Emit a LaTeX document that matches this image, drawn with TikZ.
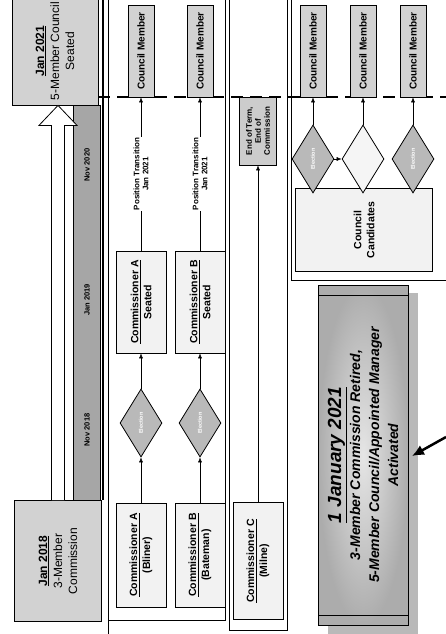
\documentclass[tikz,border=0pt]{standalone}
\usepackage{fontspec}
\setmainfont{Liberation Sans}
\usetikzlibrary{shapes.geometric,arrows.meta,calc}

\begin{document}
\begin{tikzpicture}[
  x=1pt,y=-1pt,
  font=\bfseries\fontsize{10}{12}\selectfont,
  cmbox/.style={draw,thick,fill=gray!35,rotate=90,inner sep=1pt,
                minimum width=92pt,minimum height=26pt},
  datebox/.style={draw,thick,fill=gray!35,rotate=90,align=center,
                  font=\mdseries\fontsize{12}{15}\selectfont},
  combox/.style={draw,thick,fill=gray!10,rotate=90,align=center,inner sep=1pt,
                 font=\bfseries\fontsize{10.5}{13}\selectfont},
  vote/.style={diamond,draw,thick,fill=gray!55,rotate=90,inner sep=0pt,
               minimum width=68pt,minimum height=42pt,
               font=\bfseries\fontsize{5.5}{6}\selectfont,text=white},
  trans/.style={fill=white,rotate=90,align=center,inner sep=1pt,
                font=\bfseries\fontsize{8}{9}\selectfont},
  datelab/.style={rotate=90,font=\bfseries\fontsize{7.5}{9}\selectfont},
  banner/.style={draw,thick,rotate=90,align=center,inner sep=2pt,
                 inner color=gray!20,outer color=gray!65,
                 font=\bfseries\itshape\fontsize{14}{19}\selectfont},
  lane/.style={line width=0.9pt},
  >={Latex[length=5pt,width=4pt]}
]
\useasboundingbox (0,0) rectangle (446,634);
\clip (0,0) rectangle (446,634);
% ---- lanes ----
\draw[lane] (108,0) -- (108,634);
\draw[lane] (108,620) -- (225,620) -- (225,0);
\draw[lane] (229,0) -- (229,630) -- (287,630) -- (287,0);
\draw[lane] (291,0) -- (291,280) -- (446,280);
\draw[line width=1.1pt] (103,0) -- (103,500);
% ---- timeline bar ----
\filldraw[thick,fill=gray!70] (73,105) rectangle (100,500);
\node[datelab] (nov20) at (87,165) {Nov 2020};
\node[datelab] (jan19) at (87,300) {Jan 2019};
\node[datelab] (nov18) at (87,430) {Nov 2018};
% ---- Jan 2021 line ----
\draw[line width=2pt,dash pattern=on 12pt off 7pt] (98,97) -- (446,97);
% ---- start / end ----
\node[datebox,minimum width=108pt,minimum height=86pt] (seat21) at (55,51)
  {\textbf{\underline{Jan 2021}}\\5-Member Council\\Seated};
\node[datebox,minimum width=121pt,minimum height=87pt] (jan18) at (58,561)
  {\textbf{\underline{Jan 2018}}\\3-Member\\Commission};
\draw[thick,fill=white] ($(jan18.east)+(-6.5,0)$) -- ($(jan18.east|-seat21.west)+(-6.5,20)$)
  -- ($(jan18.east|-seat21.west)+(-19,20)$) -- (jan18.east|-seat21.west)
  -- ($(jan18.east|-seat21.west)+(19,20)$) -- ($(jan18.east|-seat21.west)+(6.5,20)$)
  -- ($(jan18.east)+(6.5,0)$);
% ---- Commissioner A ----
\node[cmbox] (cmA) at (141,51) {Council Member};
\node[combox,minimum width=102pt,minimum height=50pt] (seatA) at (141,302)
  {\underline{Commissioner A}\\Seated};
\node[vote] (voteA) at (141,423) {Election};
\node[combox,minimum width=104pt,minimum height=50pt] (comA) at (141,555)
  {\underline{Commissioner A}\\(Bliner)};
% ---- Commissioner B ----
\node[cmbox] (cmB) at (200,51) {Council Member};
\node[combox,minimum width=102pt,minimum height=50pt] (seatB) at (200,302)
  {\underline{Commissioner B}\\Seated};
\node[vote] (voteB) at (200,423) {Election};
\node[combox,minimum width=104pt,minimum height=50pt] (comB) at (200,555)
  {\underline{Commissioner B}\\(Bateman)};
% ---- Commissioner C ----
\node[combox,fill=gray!40,minimum width=68pt,minimum height=37pt,
      font=\bfseries\fontsize{8}{9}\selectfont] (endC) at (258,131)
  {End of Term,\\End of\\Commission};
\node[combox,minimum width=117pt,minimum height=50pt] (comC) at (258,561)
  {\underline{Commissioner C}\\(Milne)};
% ---- new seats ----
\node[combox,minimum width=83pt,minimum height=137pt] (cand) at (364,230)
  {Council\\Candidates};
\node[cmbox] (cm1) at (313,51) {Council Member};
\node[cmbox] (cm2) at (363,51) {Council Member};
\node[cmbox] (cm3) at (413,51) {Council Member};
\node[vote] (vote1) at (313,159) {Election};
\node[vote,fill=gray!8] (vote2) at (363,159) {};
\node[vote] (vote3) at (413,159) {Election};
% ---- edges ----
\draw[->] (comA) -- (voteA);
\draw[->] (voteA) -- (seatA);
\draw[->] (seatA) -- (cmA) node[trans,midway] {Position Transition\\Jan 2021};
\draw[->] (comB) -- (voteB);
\draw[->] (voteB) -- (seatB);
\draw[->] (seatB) -- (cmB) node[trans,midway] {Position Transition\\Jan 2021};
\draw[->] (comC) -- (endC);
\draw[->] (vote1) -- (vote2);
\draw[->] (vote1) -- (cm1);
\draw[->] (vote2) -- (cm2);
\draw[->] (vote3) -- (cm3);
% ---- notice ----
\fill[gray!55] (328,293) rectangle (418,634);
\node[banner,minimum width=340pt,minimum height=90pt] (notice) at (363,455)
  {{\fontsize{19}{22}\selectfont\underline{1 January 2021}}\\
   3-Member Commission Retired,\\
   5-Member Council/Appointed Manager\\
   Activated};
\draw (318,295) -- (408,295);
\draw (318,615) -- (408,615);
\coordinate (ptr) at (446,437);
\coordinate (ptrtip) at (412,456);
\draw[line width=2.5pt,-{Latex[length=12pt,width=11pt]}] (ptr) -- (ptrtip);
\end{tikzpicture}
\end{document}
